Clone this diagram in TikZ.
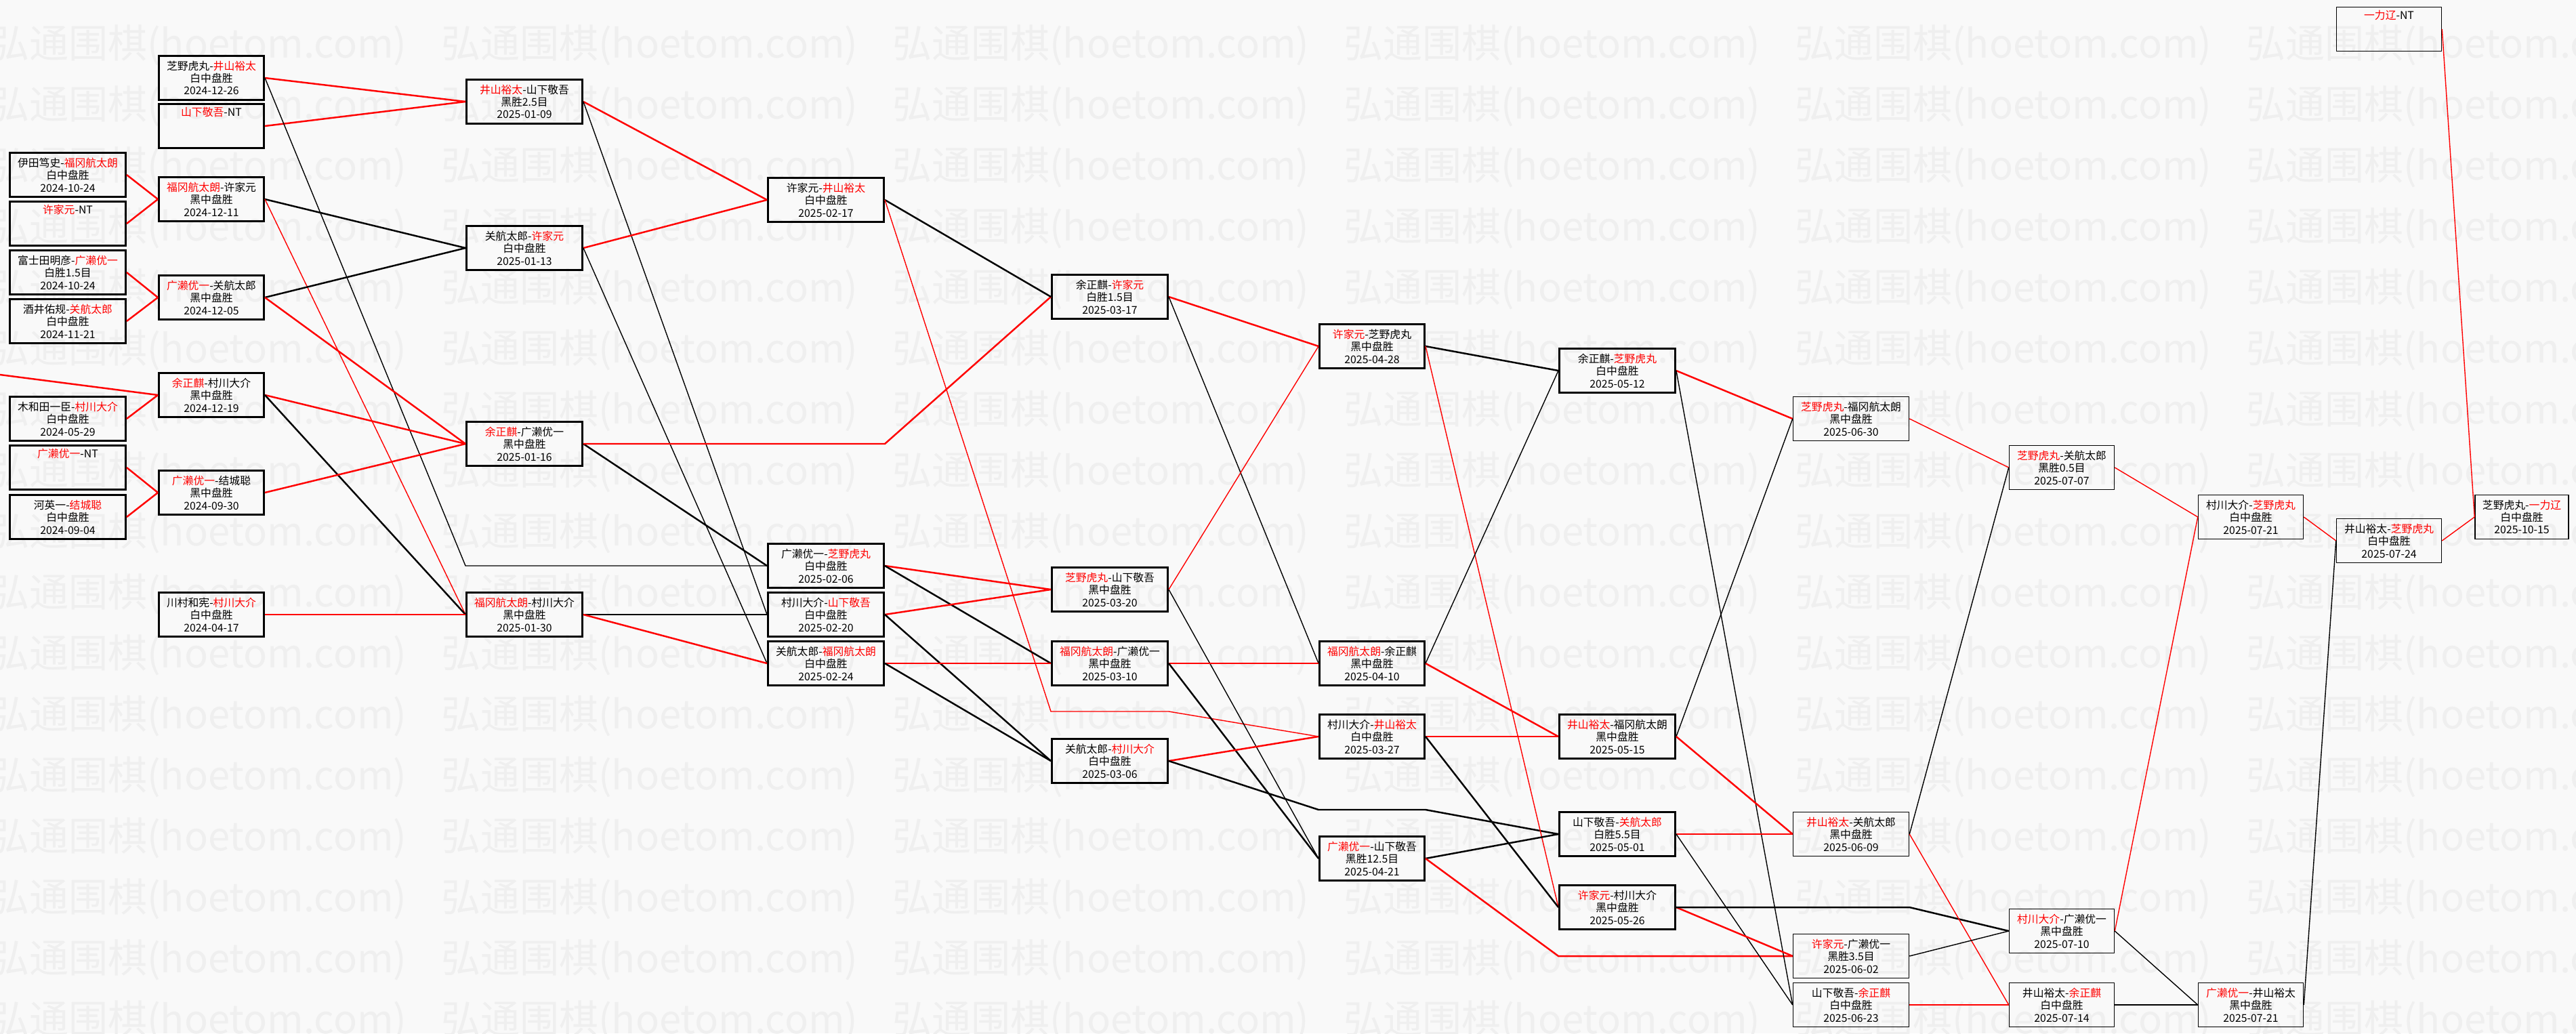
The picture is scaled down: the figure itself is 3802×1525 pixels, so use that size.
\documentclass[tikz,border=0pt]{standalone}
\usepackage{fontspec}
\usepackage{xcolor}
\usepackage{tikz}
\newfontfamily\cjk{Noto Sans CJK SC}
\definecolor{cwin}{HTML}{FF0000}
\definecolor{cpaper}{HTML}{F9F9F9}
\definecolor{cmark}{HTML}{EFEFEF}
\newcommand{\wn}[1]{\textcolor{cwin}{#1}}

\begin{document}
\begin{tikzpicture}[
  x=0.02cm, y=-0.02cm,
  font=\cjk\fontsize{9}{10.5}\selectfont,
  game/.style={draw, line width=1.7pt, minimum height=1.3cm, inner sep=0pt, align=center},
  gw/.style={game, minimum width=3.42cm},
  gn/.style={game, minimum width=3.1cm},
  late/.style={line width=0.9pt},
  win/.style={draw=cwin, line width=1.4pt},
  lose/.style={draw=black, line width=1.4pt},
  slim/.style={line width=0.8pt},
  wmark/.style={font=\cjk\fontsize{33}{33}\selectfont, text=cmark, anchor=west, inner sep=0pt},
]
  % --- 底色与水印 ---
  \useasboundingbox (0,0) rectangle (3802,1525);
  \fill[cpaper] (0,0) rectangle (3802,1525);
  \foreach \r in {0,...,16} \foreach \c in {0,...,5} {\node[wmark] at (-15+666*\c,67+90*\r) {弘通围棋(hoetom.com)};}

  % --- 第一列 ---
  \node[gw] (a1) at (100,258) {伊田笃史-\wn{福冈航太朗}\\白中盘胜\\2024-10-24};
  \node[gw] (a2) at (100,330) {\wn{许家元}-NT\\\strut\\\strut};
  \node[gw] (a3) at (100,402) {富士田明彦-\wn{广濑优一}\\白胜1.5目\\2024-10-24};
  \node[gw] (a4) at (100,474) {酒井佑规-\wn{关航太郎}\\白中盘胜\\2024-11-21};
  \node[gw] (a5) at (100,618) {木和田一臣-\wn{村川大介}\\白中盘胜\\2024-05-29};
  \node[gw] (a6) at (100,690) {\wn{广濑优一}-NT\\\strut\\\strut};
  \node[gw] (a7) at (100,763) {河英一-\wn{结城聪}\\白中盘胜\\2024-09-04};
  % --- 第二列 ---
  \node[gn] (b1) at (312,115) {芝野虎丸-\wn{井山裕太}\\白中盘胜\\2024-12-26};
  \node[gn] (b2) at (312,186) {\wn{山下敬吾}-NT\\\strut\\\strut};
  \node[gn] (b3) at (312,294) {\wn{福冈航太朗}-许家元\\黑中盘胜\\2024-12-11};
  \node[gn] (b4) at (312,439) {\wn{广濑优一}-关航太郎\\黑中盘胜\\2024-12-05};
  \node[gn] (b5) at (312,583) {\wn{余正麒}-村川大介\\黑中盘胜\\2024-12-19};
  \node[gn] (b6) at (312,727) {\wn{广濑优一}-结城聪\\黑中盘胜\\2024-09-30};
  \node[gn] (b7) at (312,907) {川村和宪-\wn{村川大介}\\白中盘胜\\2024-04-17};
  % --- 第三列 ---
  \node[gw] (c1) at (774,150) {\wn{井山裕太}-山下敬吾\\黑胜2.5目\\2025-01-09};
  \node[gw] (c2) at (774,366) {关航太郎-\wn{许家元}\\白中盘胜\\2025-01-13};
  \node[gw] (c3) at (774,655) {\wn{余正麒}-广濑优一\\黑中盘胜\\2025-01-16};
  \node[gw] (c4) at (774,907) {\wn{福冈航太朗}-村川大介\\黑中盘胜\\2025-01-30};
  % --- 第四列 ---
  \node[gw] (d1) at (1219,295) {许家元-\wn{井山裕太}\\白中盘胜\\2025-02-17};
  \node[gw] (d2) at (1219,835) {广濑优一-\wn{芝野虎丸}\\白中盘胜\\2025-02-06};
  \node[gw] (d3) at (1219,907) {村川大介-\wn{山下敬吾}\\白中盘胜\\2025-02-20};
  \node[gw] (d4) at (1219,979) {关航太郎-\wn{福冈航太朗}\\白中盘胜\\2025-02-24};
  % --- 第五列 ---
  \node[gw] (e1) at (1638,438) {余正麒-\wn{许家元}\\白胜1.5目\\2025-03-17};
  \node[gw] (e2) at (1638,870) {\wn{芝野虎丸}-山下敬吾\\黑中盘胜\\2025-03-20};
  \node[gw] (e3) at (1638,979) {\wn{福冈航太朗}-广濑优一\\黑中盘胜\\2025-03-10};
  \node[gw] (e4) at (1638,1123) {关航太郎-\wn{村川大介}\\白中盘胜\\2025-03-06};
  % --- 第六列 ---
  \node[gn] (f1) at (2025,511) {\wn{许家元}-芝野虎丸\\黑中盘胜\\2025-04-28};
  \node[gn] (f2) at (2025,979) {\wn{福冈航太朗}-余正麒\\黑中盘胜\\2025-04-10};
  \node[gn] (f3) at (2025,1087) {村川大介-\wn{井山裕太}\\白中盘胜\\2025-03-27};
  \node[gn] (f4) at (2025,1267) {\wn{广濑优一}-山下敬吾\\黑胜12.5目\\2025-04-21};
  % --- 第七列 ---
  \node[gw] (g1) at (2387,547) {余正麒-\wn{芝野虎丸}\\白中盘胜\\2025-05-12};
  \node[gw] (g2) at (2387,1087) {\wn{井山裕太}-福冈航太朗\\黑中盘胜\\2025-05-15};
  \node[gw] (g3) at (2387,1231) {山下敬吾-\wn{关航太郎}\\白胜5.5目\\2025-05-01};
  \node[gw] (g4) at (2387,1339) {\wn{许家元}-村川大介\\黑中盘胜\\2025-05-26};
  % --- 第八列以后 ---
  \node[gw, late] (h1) at (2732,618) {\wn{芝野虎丸}-福冈航太朗\\黑中盘胜\\2025-06-30};
  \node[gw, late] (h2) at (2732,1231) {\wn{井山裕太}-关航太郎\\黑中盘胜\\2025-06-09};
  \node[gw, late] (h3) at (2732,1411) {\wn{许家元}-广濑优一\\黑胜3.5目\\2025-06-02};
  \node[gw, late] (h4) at (2732,1483) {山下敬吾-\wn{余正麒}\\白中盘胜\\2025-06-23};
  \node[gn, late] (i1) at (3043,690) {\wn{芝野虎丸}-关航太郎\\黑胜0.5目\\2025-07-07};
  \node[gn, late] (i2) at (3043,1374) {\wn{村川大介}-广濑优一\\黑中盘胜\\2025-07-10};
  \node[gn, late] (i3) at (3043,1483) {井山裕太-\wn{余正麒}\\白中盘胜\\2025-07-14};
  \node[gn, late] (j1) at (3322,763) {村川大介-\wn{芝野虎丸}\\白中盘胜\\2025-07-21};
  \node[gn, late] (j2) at (3322,1483) {\wn{广濑优一}-井山裕太\\黑中盘胜\\2025-07-21};
  \node[gn, late] (k1) at (3526,43) {\wn{一力辽}-NT\\\strut\\\strut};
  \node[gn, late] (k2) at (3526,798) {井山裕太-\wn{芝野虎丸}\\白中盘胜\\2025-07-24};
  \node[game, late, minimum width=2.76cm] (l1) at (3722,763) {芝野虎丸-\wn{一力辽}\\白中盘胜\\2025-10-15};

  % --- 过列的折点 ---
  \coordinate (cut) at (0,553);
  \coordinate (v1) at (1638,1050);
  \coordinate (v2) at (2025,1195);

  % --- 连线：红=胜者，黑=负者 ---
  \draw[win] (cut) -- (b5.west);
  \draw[win] (a1.east) -- (b3.west);
  \draw[win] (a2.east) -- (b3.west);
  \draw[win] (a3.east) -- (b4.west);
  \draw[win] (a4.east) -- (b4.west);
  \draw[win] (a5.east) -- (b5.west);
  \draw[win] (a6.east) -- (b6.west);
  \draw[win] (a7.east) -- (b6.west);

  \draw[win] (b1.east) -- (c1.west);
  \draw[win] (b2.east) -- (c1.west);
  \draw[lose, slim] (b1.east) -- (c4.west |- d2.west) -- (d2.west);
  \draw[lose] (b3.east) -- (c2.west);
  \draw[win, slim] (b3.east) -- (c4.west);
  \draw[lose] (b4.east) -- (c2.west);
  \draw[win] (b4.east) -- (c3.west);
  \draw[win] (b5.east) -- (c3.west);
  \draw[lose] (b5.east) -- (c4.west);
  \draw[win] (b6.east) -- (c3.west);
  \draw[win] (b7.east) -- (c4.west);

  \draw[win] (c1.east) -- (d1.west);
  \draw[lose, slim] (c1.east) -- (d3.west);
  \draw[win] (c2.east) -- (d1.west);
  \draw[lose, slim] (c2.east) -- (d4.west);
  \draw[lose] (c3.east) -- (d2.west);
  \draw[win] (c3.east) -- (d1.east |- c3.east) -- (e1.west);
  \draw[lose] (c4.east) -- (d3.west);
  \draw[win] (c4.east) -- (d4.west);

  \draw[lose] (d1.east) -- (e1.west);
  \draw[win, slim] (d1.east) -- (e1.west |- v1) -- (e1.east |- v1) -- (f3.west);
  \draw[win] (d2.east) -- (e2.west);
  \draw[lose] (d2.east) -- (e3.west);
  \draw[win] (d3.east) -- (e2.west);
  \draw[lose] (d3.east) -- (e4.west);
  \draw[win] (d4.east) -- (e3.west);
  \draw[lose] (d4.east) -- (e4.west);

  \draw[win] (e1.east) -- (f1.west);
  \draw[lose, slim] (e1.east) -- (f2.west);
  \draw[win, slim] (e2.east) -- (f1.west);
  \draw[lose, slim] (e2.east) -- (f4.west);
  \draw[win] (e3.east) -- (f2.west);
  \draw[lose] (e3.east) -- (f4.west);
  \draw[win] (e4.east) -- (f3.west);
  \draw[lose] (e4.east) -- (f1.west |- v2) -- (f1.east |- v2) -- (g3.west);

  \draw[lose] (f1.east) -- (g1.west);
  \draw[win, slim] (f1.east) -- (g4.west);
  \draw[win] (f2.east) -- (g2.west);
  \draw[lose, slim] (f2.east) -- (g1.west);
  \draw[win] (f3.east) -- (g2.west);
  \draw[lose] (f3.east) -- (g4.west);
  \draw[lose] (f4.east) -- (g3.west);
  \draw[win] (f4.east) -- (g1.west |- h3.west) -- (h3.west);

  \draw[win] (g1.east) -- (h1.west);
  \draw[lose, slim] (g1.east) -- (h4.west);
  \draw[lose, slim] (g2.east) -- (h1.west);
  \draw[win] (g2.east) -- (h2.west);
  \draw[win] (g3.east) -- (h2.west);
  \draw[lose, slim] (g3.east) -- (h4.west);
  \draw[win] (g4.east) -- (h3.west);
  \draw[lose] (g4.east) -- (h1.east |- g4.east) -- (i2.west);

  \draw[win, slim] (h1.east) -- (i1.west);
  \draw[lose, slim] (h2.east) -- (i1.west);
  \draw[win, slim] (h2.east) -- (i3.west);
  \draw[lose, slim] (h3.east) -- (i2.west);
  \draw[win, slim] (h4.east) -- (i3.west);

  \draw[win, slim] (i1.east) -- (j1.west);
  \draw[win, slim] (i2.east) -- (j1.west);
  \draw[lose, slim] (i2.east) -- (j2.west);
  \draw[lose, slim] (i3.east) -- (j2.west);

  \draw[win, slim] (j1.east) -- (k2.west);
  \draw[lose, slim] (j2.east) -- (k2.west);
  \draw[win, slim] (k2.east) -- (l1.west);
  \draw[win, slim] (k1.east) -- (l1.west);
\end{tikzpicture}
\end{document}
